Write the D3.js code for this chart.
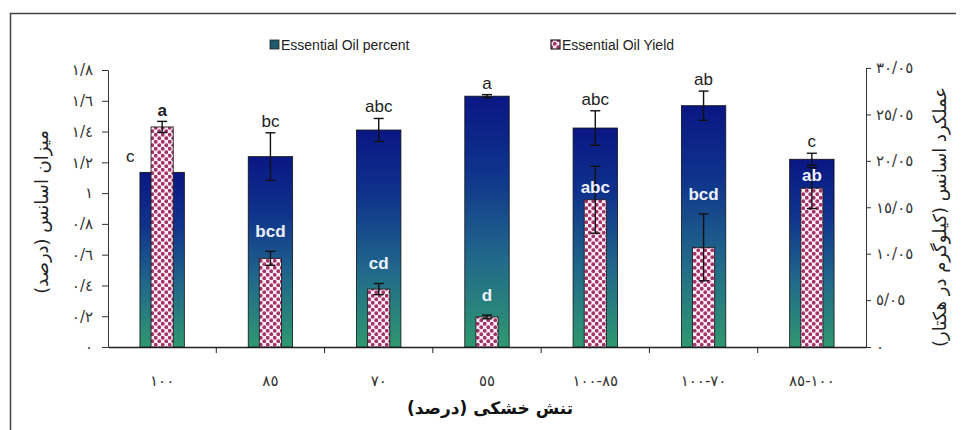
<!DOCTYPE html>
<html>
<head>
<meta charset="utf-8">
<script src="https://cdn.jsdelivr.net/npm/d3@7/dist/d3.min.js"></script>
<style>
  body { margin: 0; background: #fff; }
  svg { display: block; }
  .tick text { font-family: "DejaVu Sans", sans-serif; }
</style>
</head>
<body>
<div id="chart"></div>
<script>
(function(){
  // treatments (drought stress %)
  const categories = ["١٠٠", "٨٥", "٧٠", "٥٥", "١٠٠-٨٥", "١٠٠-٧٠", "٨٥-١٠٠"];
  // essential oil percent (left axis)
  const oilPercent = [1.135, 1.237, 1.41, 1.63, 1.423, 1.568, 1.22];
  const oilPercentErr = [0.05, 0.155, 0.075, 0.01, 0.112, 0.095, 0.039];
  const oilPercentLetters = ["c", "bc", "abc", "a", "abc", "ab", "c"];
  // essential oil yield (right axis, kg/ha)
  const oilYield = [23.7, 9.55, 6.24, 3.24, 15.86, 10.73, 17.11];
  const oilYieldErr = [0.6, 0.75, 0.6, 0.2, 3.6, 3.6, 2.2];
  const oilYieldLetters = ["a", "bcd", "cd", "d", "abc", "bcd", "ab"];
  const leftTicks = [0, 0.2, 0.4, 0.6, 0.8, 1, 1.2, 1.4, 1.6, 1.8];
  const rightTicks = [0, 5.05, 10.05, 15.05, 20.05, 25.05, 30.05];

  const width = 964, height = 430;
  const x0 = 108, x1 = 866, yBase = 347;

  const svg = d3.select("#chart").append("svg")
    .attr("width", width).attr("height", height);

  const defs = svg.append("defs");
  const grad = defs.append("linearGradient")
    .attr("id", "pctGrad")
    .attr("x1", 0).attr("y1", 0).attr("x2", 0).attr("y2", 1);
  [["0%", "#0a1784"], ["30%", "#0f338c"], ["65%", "#21698a"], ["100%", "#2f9870"]]
    .forEach(s => grad.append("stop").attr("offset", s[0]).attr("stop-color", s[1]));

  const pat = defs.append("pattern")
    .attr("id", "dots")
    .attr("patternUnits", "userSpaceOnUse")
    .attr("width", 7).attr("height", 7);
  pat.append("rect").attr("width", 7).attr("height", 7).attr("fill", "#fbeef5");
  pat.append("circle").attr("cx", 1.75).attr("cy", 1.75).attr("r", 1.9).attr("fill", "#a3336a");
  pat.append("circle").attr("cx", 5.25).attr("cy", 5.25).attr("r", 1.9).attr("fill", "#a3336a");

  // frame
  svg.append("path")
    .attr("d", "M10.5,430 L10.5,13.5 L956,13.5")
    .attr("fill", "none").attr("stroke", "#444").attr("stroke-width", 1.5);

  const x = d3.scaleBand().domain(categories).range([x0, x1]).padding(0);
  const yL = d3.scaleLinear().domain([0, 1.8]).range([yBase, 70]);
  const yR = d3.scaleLinear().domain([0, 30.05]).range([yBase, 68]);

  const toAr = s => s.replace(/[0-9]/g, d => "٠١٢٣٤٥٦٧٨٩"[+d]);
  const fmtL = v => v === 0 ? "٠" : toAr(String(+v.toFixed(1)).replace(".", "/"));
  const fmtR = v => v === 0 ? "٠" : toAr(v.toFixed(2).replace(".", "/"));

  // left axis
  const gL = svg.append("g").attr("transform", `translate(${x0},0)`)
    .call(d3.axisLeft(yL).tickValues(leftTicks).tickFormat(fmtL).tickSize(6).tickSizeOuter(0).tickPadding(9));
  // right axis
  const gR = svg.append("g").attr("transform", `translate(${x1},0)`)
    .call(d3.axisRight(yR).tickValues(rightTicks).tickFormat(fmtR).tickSize(5).tickSizeOuter(0).tickPadding(5));
  [gL, gR].forEach(g => {
    g.selectAll(".tick text").attr("font-size", 15).attr("fill", "#333")
      .attr("direction", "ltr").attr("unicode-bidi", "bidi-override");
    g.selectAll("path, line").attr("stroke", "#333");
  });

  // x axis
  const gX = svg.append("g").attr("transform", `translate(0,${yBase})`)
    .call(d3.axisBottom(x).tickSize(0).tickPadding(33));
  gX.select(".domain").attr("stroke", "#222").attr("stroke-width", 1.3);
  gX.selectAll(".tick text").attr("font-size", 15).attr("fill", "#333")
    .attr("dy", "0.4em")
    .attr("direction", "ltr").attr("unicode-bidi", "bidi-override");
  gX.selectAll(".edge")
    .data(categories.slice(1))
    .enter().append("line")
    .attr("x1", d => x(d)).attr("x2", d => x(d))
    .attr("y1", 0).attr("y2", 6)
    .attr("stroke", "#222");

  const pw = x.bandwidth() * 0.41, yw = x.bandwidth() * 0.205;
  const cx = d => x(d) + x.bandwidth() / 2;

  // percent bars
  svg.selectAll(".pct")
    .data(categories)
    .enter().append("rect")
    .attr("class", "pct")
    .attr("x", d => cx(d) - pw / 2)
    .attr("width", pw)
    .attr("y", (d, i) => yL(oilPercent[i]))
    .attr("height", (d, i) => yBase - yL(oilPercent[i]))
    .attr("fill", "url(#pctGrad)")
    .attr("stroke", "#111").attr("stroke-width", 0.8);

  // error bars
  const errBar = (sel, y, vals, errs) => {
    sel.each(function(d, i) {
      const g = d3.select(this);
      const c = cx(d), t = y(vals[i] + errs[i]), b = y(vals[i] - errs[i]);
      g.append("line").attr("x1", c).attr("x2", c).attr("y1", t).attr("y2", b);
      g.append("line").attr("x1", c - 5).attr("x2", c + 5).attr("y1", t).attr("y2", t);
      g.append("line").attr("x1", c - 5).attr("x2", c + 5).attr("y1", b).attr("y2", b);
    }).selectAll("line").attr("stroke", "#111").attr("stroke-width", 1.4);
  };
  errBar(svg.selectAll(".perr").data(categories).enter().append("g").attr("class", "perr"),
    yL, oilPercent, oilPercentErr);

  // yield bars
  svg.selectAll(".yld")
    .data(categories)
    .enter().append("rect")
    .attr("class", "yld")
    .attr("x", d => cx(d) - yw / 2)
    .attr("width", yw)
    .attr("y", (d, i) => yR(oilYield[i]))
    .attr("height", (d, i) => yBase - yR(oilYield[i]))
    .attr("fill", "url(#dots)")
    .attr("stroke", "#222").attr("stroke-width", 0.9);

  errBar(svg.selectAll(".yerr").data(categories).enter().append("g").attr("class", "yerr"),
    yR, oilYield, oilYieldErr);

  // significance letters
  const yieldAbove = i => yR(oilYield[i]) < yL(oilPercent[i]);
  svg.selectAll(".plet")
    .data(categories)
    .enter().append("text")
    .attr("x", (d, i) => yieldAbove(i) ? cx(d) - 32 : cx(d))
    .attr("y", (d, i) => yieldAbove(i) ? yL(oilPercent[i]) - 10 : yL(oilPercent[i] + oilPercentErr[i]) - 6)
    .attr("text-anchor", "middle")
    .attr("font-family", "Liberation Sans, Arial, sans-serif")
    .attr("font-size", 17).attr("fill", "#222")
    .text((d, i) => oilPercentLetters[i]);

  // white letters sit above the yield error bar, or over it when the blue bar is too short
  const yieldLetterY = i => {
    const errTop = yR(oilYield[i] + oilYieldErr[i]);
    const pTop = yL(oilPercent[i]);
    if (yieldAbove(i)) return errTop - 5;
    const c = (errTop - 20 < pTop + 20) ? yR(oilYield[i]) - 13 : errTop - 20;
    return c + 6;
  };
  svg.selectAll(".ylet")
    .data(categories)
    .enter().append("text")
    .attr("x", d => cx(d))
    .attr("y", (d, i) => yieldLetterY(i))
    .attr("text-anchor", "middle")
    .attr("font-family", "Liberation Sans, Arial, sans-serif")
    .attr("font-weight", "bold")
    .attr("font-size", 17)
    .attr("fill", (d, i) => yieldAbove(i) ? "#222" : "#eef2ff")
    .text((d, i) => oilYieldLetters[i]);

  // legend
  const legend = svg.append("g").attr("font-family", "Liberation Sans, Arial, sans-serif").attr("font-size", 14).attr("fill", "#222");
  legend.append("rect").attr("x", 270).attr("y", 40).attr("width", 9).attr("height", 9)
    .attr("fill", "#1f5a6e").attr("stroke", "#222").attr("stroke-width", 0.8);
  legend.append("text").attr("x", 281).attr("y", 50).text("Essential Oil percent");
  legend.append("rect").attr("x", 551).attr("y", 40).attr("width", 9).attr("height", 9)
    .attr("fill", "url(#dots)").attr("stroke", "#222").attr("stroke-width", 1.2);
  legend.append("text").attr("x", 562).attr("y", 50).text("Essential Oil Yield");

  // axis titles
  svg.append("text")
    .attr("transform", "translate(48,212) rotate(-90)")
    .attr("text-anchor", "middle")
    .attr("font-family", "DejaVu Sans, sans-serif")
    .attr("font-size", 18).attr("fill", "#222")
    .attr("direction", "rtl")
    .text("میزان اسانس (درصد)");
  svg.append("text")
    .attr("transform", "translate(946,217) rotate(-90)")
    .attr("text-anchor", "middle")
    .attr("font-family", "DejaVu Sans, sans-serif")
    .attr("font-size", 18).attr("fill", "#222")
    .attr("direction", "rtl")
    .text("عملکرد اسانس (کیلوگرم در هکتار)");
  svg.append("text")
    .attr("x", 490).attr("y", 414)
    .attr("text-anchor", "middle")
    .attr("font-family", "DejaVu Sans, sans-serif")
    .attr("font-weight", "bold")
    .attr("font-size", 17).attr("fill", "#111")
    .attr("direction", "rtl")
    .text("تنش خشکی (درصد)");
})();
</script>
</body>
</html>
